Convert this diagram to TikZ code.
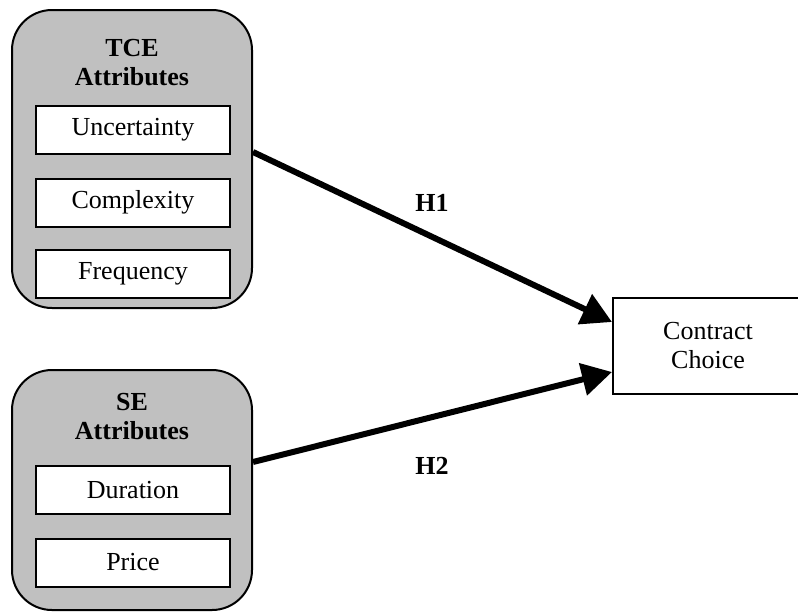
\documentclass[tikz,border=0pt]{standalone}
\usepackage{fontspec}
\setmainfont{Liberation Serif}
\usetikzlibrary{arrows.meta}
\definecolor{boxgray}{HTML}{C0C0C0}
\begin{document}
\begin{tikzpicture}[x=0.5pt,y=-0.5pt,
  font=\fontsize{13}{14.5}\selectfont,
  group/.style={draw, line width=1pt, fill=boxgray, rounded corners=20pt, minimum width=120pt, inner sep=0pt},
  item/.style={draw, line width=1pt, fill=white, minimum width=97pt, minimum height=24pt, inner sep=0pt},
  title/.style={font=\fontsize{13}{14.5}\selectfont\bfseries, align=center},
  conn/.style={line width=3pt, -{Triangle[length=15pt,width=16pt]}},
  hlabel/.style={font=\fontsize{13}{14.5}\selectfont\bfseries}]
\useasboundingbox (0,0) rectangle (798,612);
\node[group, minimum height=149pt] (tce) at (132,159) {};
\node[group, minimum height=120pt] (se) at (132,490) {};
\node[title] (tcet) at (132,63) {TCE\\Attributes};
\node[title] (set) at (132,417) {SE\\Attributes};
\node[item] (unc) at (133,130) {Uncertainty};
\node[item] (com) at (133,202.5) {Complexity};
\node[item] (fre) at (133,274) {Frequency};
\node[item] (dur) at (133,490) {Duration};
\node[item] (pri) at (133,562.5) {Price};
\node[draw, line width=1pt, minimum width=95pt, minimum height=48pt, align=center, inner sep=0pt] (cc) at (708,346) {Contract\\Choice};
\draw[conn] ([yshift=3.5pt]tce.east) -- ([yshift=12pt]cc.west);
\draw[conn] ([yshift=14pt]se.east) -- ([yshift=-13pt]cc.west);
\node[hlabel] (h1) at (432,203) {H1};
\node[hlabel] (h2) at (432,466) {H2};
\end{tikzpicture}
\end{document}
